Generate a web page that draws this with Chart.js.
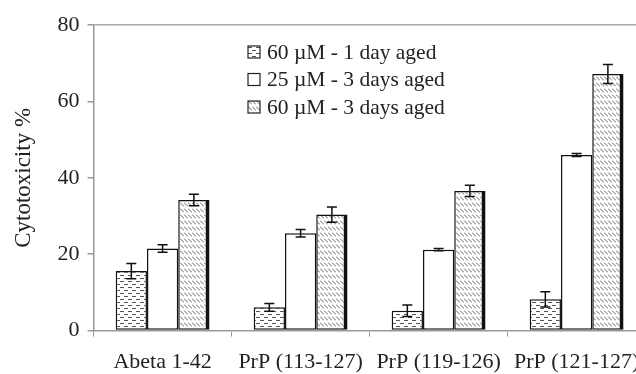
<!DOCTYPE html>
<html>
<head>
<meta charset="utf-8">
<script src="https://cdn.jsdelivr.net/npm/chart.js@4"></script>
<style>
  html, body { margin: 0; padding: 0; background: #fff; overflow: hidden; }
  #wrap { width: 652px; height: 383px; margin-top: 4px; }
</style>
</head>
<body>
<div id="wrap"><canvas id="chart"></canvas></div>
<script>
const categories = ['Abeta 1-42', 'PrP (113-127)', 'PrP (119-126)', 'PrP (121-127)'];
const seriesNames = ['60 \u00b5M - 1 day aged', '25 \u00b5M - 3 days aged', '60 \u00b5M - 3 days aged'];
const oneDay60 = [15.6, 6.1, 5.2, 8.2];
const threeDays25 = [21.5, 25.5, 21.2, 46];
const threeDays60 = [34.2, 30.4, 36.6, 67.2];
const err1 = [2, 1, 1.5, 2];
const err2 = [1, 1, 0.3, 0.4];
const err3 = [1.5, 2, 1.5, 2.5];
const yTicks = [0, 20, 40, 60, 80];

const FONT = '"Liberation Serif", "Times New Roman", serif';

// motif tirets horizontaux
function dashPattern() {
    const c = document.createElement('canvas');
    c.width = 8; c.height = 6;
    const g = c.getContext('2d');
    g.fillStyle = '#fff';
    g.fillRect(0, 0, 8, 6);
    g.strokeStyle = '#555';
    g.lineWidth = 1;
    g.beginPath();
    g.moveTo(0, 1.5); g.lineTo(4, 1.5);
    g.moveTo(4, 4.5); g.lineTo(8, 4.5);
    g.stroke();
    return g.createPattern(c, 'repeat');
}

// motif hachures diagonales
function hatchPattern() {
    const c = document.createElement('canvas');
    c.width = 4; c.height = 6;
    const g = c.getContext('2d');
    g.fillStyle = '#fff';
    g.fillRect(0, 0, 4, 6);
    g.strokeStyle = '#666';
    g.lineWidth = 1;
    g.beginPath();
    g.moveTo(0, 0.5); g.lineTo(4, 4.5);
    g.stroke();
    return g.createPattern(c, 'repeat');
}

const fills = [dashPattern(), '#fff', hatchPattern()];

const errorBars = {
    id: 'errorBars',
    afterDatasetsDraw(chart) {
        const ctx = chart.ctx;
        const y = chart.scales.y;
        const errs = [err1, err2, err3];
        ctx.save();
        ctx.strokeStyle = '#111';
        ctx.lineWidth = 1.5;
        chart.data.datasets.forEach((ds, i) => {
            chart.getDatasetMeta(i).data.forEach((bar, j) => {
                const v = ds.data[j];
                const top = y.getPixelForValue(v + errs[i][j]);
                const bot = y.getPixelForValue(v - errs[i][j]);
                const x = bar.x;
                ctx.beginPath();
                ctx.moveTo(x, top); ctx.lineTo(x, bot);
                ctx.moveTo(x - 5, top); ctx.lineTo(x + 5, top);
                ctx.moveTo(x - 5, bot); ctx.lineTo(x + 5, bot);
                ctx.stroke();
            });
        });
        ctx.restore();
    }
};

const boxLegend = {
    id: 'boxLegend',
    afterDraw(chart) {
        const ctx = chart.ctx;
        ctx.save();
        ctx.font = '21.5px ' + FONT;
        ctx.textBaseline = 'middle';
        seriesNames.forEach((name, i) => {
            const cy = 48 + i * 27.5;
            ctx.fillStyle = fills[i];
            ctx.fillRect(248, cy - 6, 12, 12);
            ctx.strokeStyle = '#222';
            ctx.lineWidth = 1.2;
            ctx.strokeRect(248, cy - 6, 12, 12);
            ctx.fillStyle = '#222';
            ctx.fillText(name, 267, cy + 1);
        });
        ctx.restore();
    }
};

const ctx = document.getElementById('chart').getContext('2d');
new Chart(ctx, {
    type: 'bar',
    data: {
        labels: categories,
        datasets: [oneDay60, threeDays25, threeDays60].map((d, i) => ({
            label: seriesNames[i],
            data: d,
            backgroundColor: fills[i],
            borderColor: '#111',
            borderWidth: i === 2 ? { top: 1.5, left: 1.5, bottom: 1.5, right: 4 } : 1.5,
            borderSkipped: false,
            categoryPercentage: 0.68,
            barPercentage: 1
        }))
    },
    options: {
        responsive: true,
        maintainAspectRatio: false,
        animation: false,
        layout: { padding: { top: 20, right: 6, left: 6, bottom: 0 } },
        plugins: {
            legend: { display: false },
            tooltip: { enabled: false }
        },
        scales: {
            x: {
                offset: true,
                grid: { offset: true, drawOnChartArea: false, color: '#999', tickLength: 6 },
                border: { color: '#999', width: 1.5 },
                ticks: { color: '#222', font: { family: FONT, size: 22 }, padding: 12, maxRotation: 0 }
            },
            y: {
                min: 0, max: 80,
                afterBuildTicks(axis) { axis.ticks = yTicks.map(v => ({ value: v })); },
                grid: {
                    color: c => c.tick && c.tick.value === 80 ? '#aaa' : 'rgba(0,0,0,0)',
                    tickColor: '#999',
                    tickLength: 6,
                    lineWidth: 1.5
                },
                border: { color: '#999', width: 1.5 },
                ticks: { color: '#222', font: { family: FONT, size: 22 }, padding: 8 },
                title: { display: true, text: 'Cytotoxicity %', color: '#222', font: { family: FONT, size: 23 }, padding: { bottom: 12 } }
            }
        }
    },
    plugins: [errorBars, boxLegend]
});
</script>
</body>
</html>
